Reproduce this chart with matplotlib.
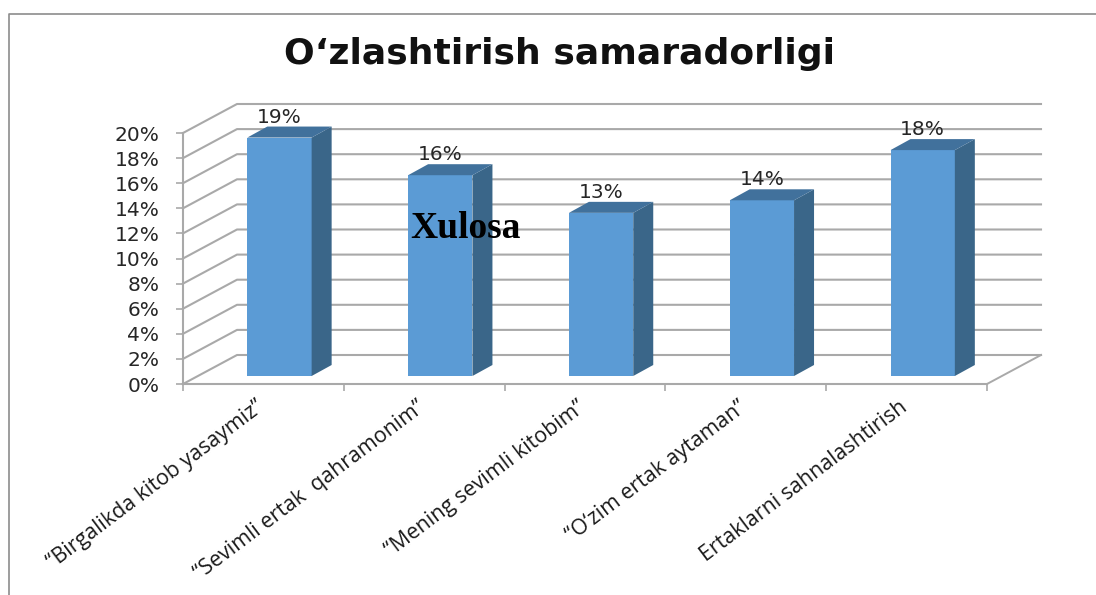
import numpy as np
import matplotlib
matplotlib.use("Agg")
import matplotlib.pyplot as plt
from matplotlib.lines import Line2D

title = "O‘zlashtirish samaradorligi"
categories = ["“Birgalikda kitob yasaymiz”", "“Sevimli ertak  qahramonim”", "“Mening sevimli kitobim”",
              "“O‘zim ertak aytaman”", "Ertaklarni sahnalashtirish"]
values = [19, 16, 13, 14, 18]
yticks = [0, 2, 4, 6, 8, 10, 12, 14, 16, 18, 20]
overlay = "Xulosa"

W, H = 1096, 595
GRID = "#a9a9a9"
FRONT = "#5b9bd5"
SIDE = "#3a6689"
TOP = "#41719c"

fig = plt.figure(figsize=(W / 100, H / 100), dpi=100)
# plot floor front edge sits at x 183..987, y 384, 20% at y 133 (pixels)
ax = fig.add_axes([183 / W, 1 - 384 / H, 804 / W, 251 / H])
ax.set_xlim(-0.5, 4.5)
ax.set_ylim(0, 20)
px_x = 804 / 5
px_y = 251 / 20

# depth of the fake 3d box, in data units
wall_dx, wall_dy = 54 / px_x, 29 / px_y
bar_dx, bar_dy = 20 / px_x, 11 / px_y
x_off, lift = 0.1, 8 / px_y
bar_w = 0.4

x0, x1 = ax.get_xlim()
for v in yticks:
    ax.plot([x0, x0 + wall_dx, x1 + wall_dx], [v, v + wall_dy, v + wall_dy],
            color=GRID, lw=1.5, clip_on=False, zorder=1)
ax.plot([x1, x1 + wall_dx], [0, wall_dy], color=GRID, lw=1.4, clip_on=False, zorder=1)

xs = np.arange(len(values))
ax.bar(xs + x_off, values, bar_w, bottom=lift, color=FRONT, zorder=3)
for x, v in zip(xs, values):
    l = x + x_off - bar_w / 2
    r = x + x_off + bar_w / 2
    top = v + lift
    ax.fill([r, r + bar_dx, r + bar_dx, r], [lift, lift + bar_dy, top + bar_dy, top],
            color=SIDE, lw=0, clip_on=False, zorder=3)
    ax.fill([l, r, r + bar_dx, l + bar_dx], [top, top, top + bar_dy, top + bar_dy],
            color=TOP, lw=0, clip_on=False, zorder=3)
    ax.annotate(f"{v}%", (x + x_off, top + bar_dy), xytext=(0, 0), textcoords="offset points",
                ha="center", va="bottom", fontsize=14.5, color="#262626", family="DejaVu Sans",
                annotation_clip=False, zorder=4)

ax.patch.set_visible(False)
for s in ["top", "right"]:
    ax.spines[s].set_visible(False)
for s in ["left", "bottom"]:
    ax.spines[s].set_color(GRID)
    ax.spines[s].set_linewidth(1.5)
ax.set_yticks(yticks)
ax.set_yticklabels([f"{v}%" for v in yticks], fontsize=14.5, color="#262626", family="DejaVu Sans")
ax.set_xticks(np.arange(-0.5, 5))
ax.set_xticklabels([])
ax.tick_params(axis="both", color=GRID, width=1.2, length=5, pad=12)

for x, name in zip(xs, categories):
    ax.annotate(name, (x, 0), xytext=(-1, -15), textcoords="offset points", rotation=37,
                rotation_mode="anchor", ha="right", va="center", fontsize=15.4, color="#1a1a1a",
                family="Open Sans", annotation_clip=False)

fig.text(559 / W, 1 - 54 / H, title, ha="center", va="center", fontsize=26, fontweight="bold",
         family="DejaVu Sans", color="#111111")
fig.text(465.5 / W, 1 - 229 / H, overlay, ha="center", va="center", fontsize=27, fontweight="bold",
         family="Liberation Serif", color="black", zorder=10)

# outer chart frame, only left and top show
fig.add_artist(Line2D([8.5 / W, 8.5 / W, 1], [0, 1 - 13.5 / H, 1 - 13.5 / H], color="#8c8c8c", lw=1.2))

fig.savefig("out.png", dpi=100)
